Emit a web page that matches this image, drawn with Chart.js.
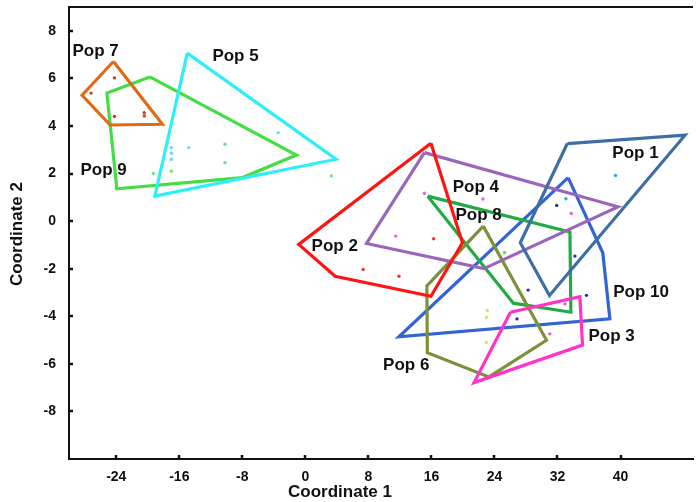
<!DOCTYPE html>
<html>
<head>
<meta charset="utf-8">
<title>Coordinate plot</title>
<script src="https://cdn.jsdelivr.net/npm/chart.js@4.4.1/dist/chart.umd.min.js"></script>
<style>
    html, body { margin: 0; padding: 0; background: #fff; overflow: hidden; }
    #wrap { position: relative; width: 697px; height: 502px; }
</style>
</head>
<body>
<div id="wrap"><canvas id="coordChart"></canvas></div>
<script>
const popNames = ['Pop 1', 'Pop 2', 'Pop 3', 'Pop 4', 'Pop 5', 'Pop 6', 'Pop 7', 'Pop 8', 'Pop 9', 'Pop 10'];

// hull corners [coord 1, coord 2]
const pop1Hull = [[33.25, 3.26], [48.19, 3.61], [30.98, -3.13], [27.28, -0.91]];
const pop2Hull = [[15.94, 3.27], [19.94, -0.91], [15.94, -3.16], [3.78, -2.32], [-0.84, -0.98]];
const pop3Hull = [[26.03, -3.83], [34.84, -3.18], [35.18, -5.21], [21.41, -6.79]];
const pop4Hull = [[15.11, 2.88], [39.67, 0.6], [22.67, -2.0], [7.76, -0.94]];
const pop5Hull = [[-14.99, 7.06], [3.9, 2.6], [-19.1, 1.05]];
const pop6Hull = [[22.58, -0.21], [30.6, -5.01], [23.3, -6.55], [15.48, -5.53], [15.42, -2.72]];
const pop7Hull = [[-24.36, 6.71], [-18.14, 4.07], [-24.78, 4.04], [-28.34, 5.29]];
const pop8Hull = [[15.53, 1.05], [33.58, -0.46], [33.7, -3.83], [26.4, -3.45]];
const pop9Hull = [[-19.74, 6.06], [-1.13, 2.78], [-7.98, 1.83], [-23.93, 1.36], [-25.19, 5.38]];
const pop10Hull = [[33.35, 1.83], [37.75, -1.33], [38.65, -4.11], [11.87, -4.86]];

// individual samples
const pop1Pts = [[39.37, 1.92], [33.07, 0.94]];
const pop2Pts = [[7.34, -2.03], [11.88, -2.32], [16.28, -0.74]];
const pop3Pts = [[32.95, -3.48], [31.03, -4.74]];
const pop4Pts = [[15.11, 1.17], [22.54, 0.93], [11.46, -0.63], [33.75, 0.32]];
const pop5Pts = [[-17.0, 3.09], [-17.0, 2.85], [-17.0, 2.6], [-14.8, 3.09], [-3.45, 3.72]];
const pop6Pts = [[23.09, -3.76], [22.98, -4.04], [22.98, -5.1]];
const pop7Pts = [[-24.23, 6.02], [-27.2, 5.38], [-24.23, 4.4], [-20.45, 4.56], [-20.45, 4.42]];
const pop8Pts = [[25.28, -1.32]];
const pop9Pts = [[-19.3, 2.0], [-17.0, 2.1], [-10.2, 3.23], [-10.2, 2.46], [0.8, 2.39], [3.3, 1.9]];
const pop10Pts = [[31.9, 0.66], [34.21, -1.47], [28.27, -2.9], [35.68, -3.12], [26.86, -4.11]];

// where each name sits (left end, vertical middle)
const labelAnchors = [[38.96, 2.85], [0.79, -1.07], [35.93, -4.85], [18.7, 1.42], [-11.8, 6.93],
                      [9.86, -6.07], [-29.56, 7.15], [19.06, 0.24], [-28.55, 2.13], [39.08, -3.0]];

const xTicks = [-24, -16, -8, 0, 8, 16, 24, 32, 40];
const yTicks = [-8, -6, -4, -2, 0, 2, 4, 6, 8];

const hulls = [pop1Hull, pop2Hull, pop3Hull, pop4Hull, pop5Hull, pop6Hull, pop7Hull, pop8Hull, pop9Hull, pop10Hull];
const samples = [pop1Pts, pop2Pts, pop3Pts, pop4Pts, pop5Pts, pop6Pts, pop7Pts, pop8Pts, pop9Pts, pop10Pts];

const lineColors = ['#3d6ea6', '#ff1414', '#ff33cc', '#9a66bb', '#2eeefa', '#7b923a', '#e06a15', '#22aa44', '#44dd44', '#3264d2'];
const dotColors = ['#33aadd', '#ee3333', '#ee55cc', '#dd66dd', '#66ddee', '#d8e455', '#dd3322', '#66dd66', '#77dd88', '#2233aa'];

const FONT = "'Liberation Sans', Arial, sans-serif";

const toXY = arr => arr.map(p => ({ x: p[0], y: p[1] }));

const datasets = [];
hulls.forEach((h, i) => {
    datasets.push({
        label: popNames[i],
        data: toXY(h.concat([h[0]])),
        showLine: true,
        borderColor: lineColors[i],
        borderWidth: 3.2,
        borderJoinStyle: 'miter',
        pointRadius: 0,
        tension: 0,
        fill: false
    });
});
samples.forEach((s, i) => {
    datasets.push({
        label: popNames[i] + ' samples',
        data: toXY(s),
        pointRadius: 1.7,
        pointBackgroundColor: dotColors[i],
        pointBorderWidth: 0
    });
});

const extras = {
    id: 'extras',
    afterDatasetsDraw(chart) {
        const ctx = chart.ctx;
        const area = chart.chartArea;
        const xs = chart.scales.x, ys = chart.scales.y;
        ctx.save();

        // top frame line
        ctx.strokeStyle = '#111';
        ctx.lineWidth = 2;
        ctx.beginPath();
        ctx.moveTo(area.left, area.top);
        ctx.lineTo(area.right, area.top);
        ctx.stroke();

        // short inward tick marks
        ctx.lineWidth = 2.5;
        ctx.beginPath();
        xTicks.forEach(v => {
            const px = Math.round(xs.getPixelForValue(v));
            ctx.moveTo(px, area.bottom);
            ctx.lineTo(px, area.bottom - 4);
        });
        yTicks.forEach(v => {
            const py = Math.round(ys.getPixelForValue(v));
            ctx.moveTo(area.left, py);
            ctx.lineTo(area.left + 4, py);
        });
        ctx.stroke();

        // population names
        ctx.fillStyle = '#111';
        ctx.font = 'bold 17px ' + FONT;
        ctx.textAlign = 'left';
        ctx.textBaseline = 'middle';
        labelAnchors.forEach((a, i) => {
            ctx.fillText(popNames[i], xs.getPixelForValue(a[0]), ys.getPixelForValue(a[1]));
        });

        // axis titles
        ctx.font = 'bold 17px ' + FONT;
        ctx.textAlign = 'center';
        ctx.fillText('Coordinate 1', 340, 492);
        ctx.translate(17, 234);
        ctx.rotate(-Math.PI / 2);
        ctx.fillText('Coordinate 2', 0, 0);
        ctx.restore();
    }
};

new Chart(document.getElementById('coordChart').getContext('2d'), {
    type: 'scatter',
    data: { datasets },
    options: {
        responsive: true,
        maintainAspectRatio: false,
        animation: false,
        layout: { padding: { top: 7, left: 0, right: 0, bottom: 0 } },
        plugins: { legend: { display: false }, tooltip: { enabled: false } },
        scales: {
            x: {
                type: 'linear',
                min: -30,
                max: 49.2,
                grid: { display: false, drawTicks: false },
                border: { display: true, color: '#111', width: 2 },
                ticks: { color: '#111', padding: 10, font: { family: FONT, size: 14, weight: 'bold' } },
                afterBuildTicks: s => { s.ticks = xTicks.map(v => ({ value: v })); },
                afterFit: s => { s.height = 43; s.paddingLeft = 0; s.paddingRight = 0; }
            },
            y: {
                type: 'linear',
                min: -10,
                max: 9,
                grid: { display: false, drawTicks: false },
                border: { display: true, color: '#111', width: 2 },
                ticks: { color: '#111', padding: 13, font: { family: FONT, size: 14, weight: 'bold' } },
                afterBuildTicks: s => { s.ticks = yTicks.map(v => ({ value: v })); },
                afterFit: s => { s.width = 69; s.paddingTop = 0; s.paddingBottom = 0; }
            }
        }
    },
    plugins: [extras]
});
</script>
</body>
</html>
